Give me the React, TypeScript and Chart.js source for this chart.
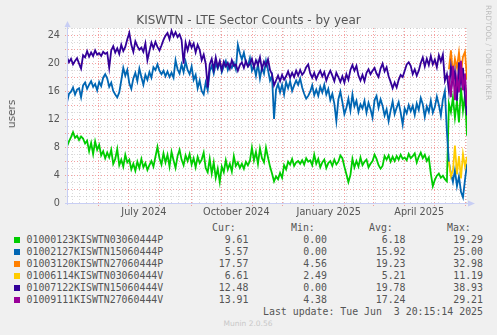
import React, { useEffect, useRef } from "react";
import { Chart, registerables } from "chart.js";

Chart.register(...registerables);

// ---------- data ----------
const TITLE = "KISWTN - LTE Sector Counts - by year";
const Y_TITLE = "users";
const SIDE_TEXT = "RRDTOOL / TOBI OETIKER";
const LAST_UPDATE = "Last update: Tue Jun  3 20:15:14 2025";
const FOOTER = "Munin 2.0.56";

// x = days since 1 May 2024
const DAY_STEP = 2;
const END_START_DAY = 380;
const X_MAX = 398;
const Y_MAX = 25;
const yTickValues = [0, 2, 4, 6, 8, 10, 12, 14, 16, 18, 20, 22, 24];
const monthStartDays = [0, 31, 61, 92, 123, 153, 184, 214, 245, 276, 304, 335, 365, 396];
const xLabelTexts = ["July 2024", "October 2024", "January 2025", "April 2025"];
const xLabelDays = [76.5, 168.5, 260.5, 350.5];
const firstMondayDay = 5;

const green = [
  8.1, 8.8, 9.4, 10.1, 9.3, 9.6, 9.0, 9.5, 9.2, 8.5,
  8.9, 7.4, 8.6, 7.0, 8.8, 7.6, 8.3, 6.8, 7.4, 6.4,
  7.2, 6.5, 7.6, 5.6, 6.3, 7.7, 5.4, 6.2, 5.2, 6.9,
  5.8, 6.2, 4.8, 5.6, 4.6, 5.9, 5.0, 6.3, 5.1, 5.7,
  4.7, 5.4, 6.0, 5.2, 6.6, 8.0, 6.4, 5.5, 7.1, 5.8,
  6.9, 5.2, 7.3, 6.1, 5.0, 6.7, 7.6, 6.2, 5.4, 6.8,
  6.0, 7.0, 5.5, 6.4, 5.1, 6.6, 5.7, 6.2, 7.2, 5.0,
  4.4, 6.3, 4.2, 5.8, 3.6, 4.9, 3.0, 5.2, 4.4, 6.1,
  4.8, 5.6, 4.5, 6.7, 5.3, 5.8, 5.0, 5.6, 4.9, 5.9,
  5.4, 6.0, 7.9, 6.1, 7.3, 5.6, 7.8, 6.4, 5.8, 7.9,
  6.5, 5.2, 4.2, 3.1, 3.8, 3.4, 4.3, 3.6, 5.4, 4.8,
  5.9, 5.5, 6.3, 5.3, 5.8, 6.0, 5.6, 6.1, 5.5, 6.4,
  5.9, 6.1, 5.4, 6.9, 5.6, 6.3, 5.1, 5.8, 6.2, 5.0,
  5.7, 6.0, 5.3, 6.2, 5.5, 5.9, 6.8, 6.4, 5.2, 4.1,
  3.0, 4.0, 6.3, 5.1, 6.0, 5.2, 6.5, 5.4, 5.9, 6.2,
  5.1, 5.6, 6.0, 6.9, 6.3, 5.4, 4.9, 5.3, 6.7, 6.2,
  6.8, 5.9, 6.6, 6.0, 6.7, 6.2, 6.9, 6.3, 6.5, 6.1,
  7.0, 6.4, 6.7, 7.1, 5.8, 6.6, 7.2, 6.4, 6.9, 6.0,
  6.5, 4.2, 2.4, 3.3, 3.9, 4.2, 3.6, 3.9, 3.4, 3.1,
  14.2, 13.0, 15.1, 12.2, 14.6, 11.5, 16.5, 13.2, 15.4, 9.6,
];

const blue = [
  14.4, 15.6, 15.9, 16.5, 15.5, 16.2, 16.4, 15.1, 16.8, 17.2,
  16.3, 16.9, 17.4, 16.6, 17.0, 16.1, 17.3, 16.7, 17.9, 18.4,
  17.8, 16.6, 17.2, 16.0, 15.5, 15.1, 15.8, 17.5, 19.3, 18.2,
  19.0, 17.1, 16.3, 17.8, 18.6, 17.4, 19.2, 18.0, 16.9, 18.3,
  17.6, 18.7, 17.9, 19.4, 19.0, 19.8, 18.9, 18.4, 18.9, 18.1,
  18.8, 18.0, 18.6, 17.9, 20.4, 19.1, 18.5, 19.8, 18.7, 20.2,
  19.0, 18.4, 19.5, 17.6, 18.3, 16.4, 17.5, 16.0, 15.5, 17.2,
  16.1, 18.8, 19.6, 18.5, 19.9, 19.2, 20.1, 18.7, 19.5, 20.3,
  19.0, 19.8, 19.3, 20.0, 19.1, 22.6, 21.4, 20.5, 21.5, 20.0,
  19.6, 20.7, 18.9, 19.6, 18.2, 19.9, 17.8, 19.4, 18.5, 20.3,
  19.0, 17.5, 18.2, 12.0, 16.2, 17.0, 15.8, 16.9, 15.5, 17.3,
  16.4, 17.4, 16.0, 16.8, 17.5, 16.9, 17.8, 16.5, 15.6, 14.9,
  15.3, 15.9, 16.8, 15.4, 16.2, 15.3, 16.6, 15.8, 16.9, 15.5,
  16.3, 14.7, 15.6, 14.2, 11.7, 14.8, 15.9, 14.4, 12.7, 13.6,
  14.9, 13.2, 15.5, 13.8, 14.6, 13.0, 14.1, 13.5, 14.6, 12.9,
  14.3, 13.4, 12.2, 14.7, 15.3, 13.6, 14.8, 13.9, 12.5, 13.4,
  11.7, 13.2, 14.5, 12.7, 13.6, 14.4, 12.9, 11.2, 13.5, 12.8,
  14.0, 13.1, 13.9, 12.6, 14.2, 13.3, 15.0, 14.1, 12.3, 13.8,
  13.0, 14.6, 12.9, 13.7, 15.2, 14.0, 12.5, 14.8, 16.0, 10.2,
  5.8, 4.2, 3.0, 4.7, 2.4, 3.8, 1.6, 0.8, 3.3, 5.6,
];

const purple = [
  20.8, 20.1, 20.6, 19.8, 20.3, 20.7, 19.9, 19.2, 21.1, 20.8,
  21.7, 20.9, 21.5, 21.0, 21.8, 21.2, 21.4, 21.0, 21.6, 21.3,
  21.5, 19.3, 21.8, 22.4, 21.5, 22.1, 21.3, 22.6, 21.7, 22.3,
  23.4, 24.3, 22.6, 21.6, 23.1, 22.4, 21.9, 22.2, 21.6, 22.8,
  20.4, 21.7, 22.9, 22.1, 23.0, 22.3, 21.8, 22.5, 23.3, 23.9,
  24.3, 23.4, 24.6, 23.8, 24.4, 23.7, 24.1, 23.3, 19.9, 22.9,
  21.8, 23.0, 22.2, 22.8, 21.5, 22.6, 21.9, 20.4, 21.2, 19.9,
  16.5, 19.8, 20.6, 19.1, 20.8, 19.4, 20.3, 19.0, 20.2, 19.5,
  20.0, 19.2, 20.4, 19.6, 19.8, 18.9, 19.7, 20.1, 19.3, 20.3,
  19.5, 19.9, 20.6, 19.4, 20.4, 19.7, 20.8, 19.1, 20.2, 19.6,
  20.5, 19.0, 18.4, 16.8, 17.5, 18.2, 17.4, 18.3, 17.6, 18.1,
  18.8, 17.9, 18.6, 18.0, 18.9, 18.2, 19.0, 18.3, 18.7, 19.4,
  19.8, 18.5, 17.9, 18.6, 17.7, 18.4, 18.9, 18.1, 18.7, 17.5,
  18.3, 18.9, 18.2, 17.4, 18.6, 18.0, 17.3, 18.1, 17.2, 18.4,
  17.6, 19.0, 19.7, 18.9, 19.6, 18.2, 17.5, 18.3, 17.4, 18.6,
  19.1, 18.4, 18.9, 19.3, 18.5, 18.0, 19.2, 19.9, 18.8, 19.4,
  18.1, 17.3, 16.4, 17.2, 16.5, 17.6, 18.3, 18.0, 18.9, 19.8,
  20.1, 19.6, 18.4, 19.1, 18.2, 18.9, 20.0, 20.8, 19.5, 20.6,
  19.7, 21.0, 19.8, 20.5, 19.4, 21.1, 20.2, 21.2, 17.5, 18.4,
  16.0, 19.5, 17.2, 18.8, 14.6, 20.1, 17.0, 19.3, 15.2, 12.5,
];

const orangeEnd = [19.1, 21.8, 18.4, 20.6, 19.3, 21.5, 18.7, 20.9, 21.6, 17.6];
const yellowEnd = [5.9, 3.8, 4.6, 8.2, 4.1, 6.7, 3.5, 7.0, 5.2, 6.6];
const magentaEnd = [18.2, 15.1, 19.6, 14.7, 17.9, 15.8, 20.3, 16.1, 18.5, 13.9];

const seriesNames = [
  "01000123KISWTN03060444P",
  "01002127KISWTN15060444P",
  "01003120KISWTN27060444P",
  "01006114KISWTN03060444V",
  "01007122KISWTN15060444V",
  "01009111KISWTN27060444V",
];
const seriesColors = ["#00CC00", "#0066B3", "#FF8000", "#FFCC00", "#330099", "#990099"];
const curValues = ["9.61", "5.57", "17.57", "6.61", "12.48", "13.91"];
const minValues = ["0.00", "0.00", "4.56", "2.49", "0.00", "4.38"];
const avgValues = ["6.18", "15.92", "19.23", "5.21", "19.78", "17.24"];
const maxValues = ["19.29", "25.00", "32.98", "11.19", "38.93", "29.21"];

// ---------- layout / style ----------
const W = 497;
const H = 335;
const CANVAS_H = 222;
const MAJOR = "rgba(240,120,120,0.7)";
const MINOR = "rgba(170,170,170,0.45)";
const AXIS = "#C8CEF4";
const TEXT = "#555555";

const fullSeries = (arr: number[]) => arr.map((v, i) => ({ x: i * DAY_STEP, y: v }));
const endSeries = (arr: number[]) => arr.map((v, i) => ({ x: END_START_DAY + i * DAY_STEP, y: v }));

const seriesData = [
  fullSeries(green),
  fullSeries(blue),
  endSeries(orangeEnd),
  endSeries(yellowEnd),
  fullSeries(purple),
  endSeries(magentaEnd),
];

const rrdGrid = {
  id: "rrdGrid",
  beforeDatasetsDraw(chart: any) {
    const { ctx, chartArea: a, scales } = chart;
    const xs = scales.x;
    const ys = scales.y;
    ctx.save();
    ctx.fillStyle = "#FFFFFF";
    ctx.fillRect(a.left, a.top, a.right - a.left, a.bottom - a.top);
    ctx.lineWidth = 1;
    ctx.setLineDash([1, 2]);
    ctx.strokeStyle = MINOR;
    for (let d = firstMondayDay; d < X_MAX; d += 7) {
      const x = Math.round(xs.getPixelForValue(d)) + 0.5;
      ctx.beginPath();
      ctx.moveTo(x, a.top);
      ctx.lineTo(x, a.bottom + 2);
      ctx.stroke();
    }
    for (let v = 0; v <= Y_MAX; v++) {
      const y = Math.round(ys.getPixelForValue(v)) + 0.5;
      ctx.strokeStyle = v % 2 === 0 ? MAJOR : MINOR;
      ctx.beginPath();
      ctx.moveTo(a.left - 2, y);
      ctx.lineTo(a.right, y);
      ctx.stroke();
    }
    ctx.strokeStyle = MAJOR;
    for (const d of monthStartDays) {
      if (d <= 0) continue;
      const x = Math.round(xs.getPixelForValue(d)) + 0.5;
      ctx.beginPath();
      ctx.moveTo(x, a.top);
      ctx.lineTo(x, a.bottom + 3);
      ctx.stroke();
    }
    ctx.restore();
  },
  afterDatasetsDraw(chart: any) {
    const { ctx, chartArea: a } = chart;
    ctx.save();
    ctx.setLineDash([]);
    ctx.strokeStyle = AXIS;
    ctx.fillStyle = AXIS;
    ctx.lineWidth = 1;
    const bx = Math.round(a.left) + 0.5;
    const by = Math.round(a.bottom) + 0.5;
    ctx.beginPath();
    ctx.moveTo(a.left - 2, by);
    ctx.lineTo(a.right + 2, by);
    ctx.moveTo(bx, a.bottom + 2);
    ctx.lineTo(bx, a.top - 2);
    ctx.stroke();
    ctx.beginPath();
    ctx.moveTo(a.right + 1, by - 3);
    ctx.lineTo(a.right + 8, by);
    ctx.lineTo(a.right + 1, by + 3);
    ctx.closePath();
    ctx.fill();
    ctx.beginPath();
    ctx.moveTo(bx - 3, a.top - 1);
    ctx.lineTo(bx, a.top - 7);
    ctx.lineTo(bx + 3, a.top - 1);
    ctx.closePath();
    ctx.fill();
    ctx.restore();
  },
};

export default function App() {
  const ref = useRef<HTMLCanvasElement>(null);

  useEffect(() => {
    if (!ref.current) return;
    const chart = new Chart(ref.current, {
      type: "line",
      data: {
        datasets: seriesData.map((d, i) => ({
          label: seriesNames[i],
          data: d,
          borderColor: seriesColors[i],
          backgroundColor: seriesColors[i],
          borderWidth: 1.8,
          pointRadius: 0,
          tension: 0,
          fill: false,
          order: seriesData.length - 1 - i,
        })),
      },
      options: {
        animation: false,
        responsive: false,
        events: [],
        layout: { padding: { top: 28, right: 30, left: 0, bottom: 0 } },
        plugins: {
          legend: { display: false },
          tooltip: { enabled: false },
          title: { display: false },
        },
        scales: {
          x: {
            type: "linear",
            min: 0,
            max: X_MAX,
            grid: { display: false, drawTicks: false },
            border: { display: false },
            afterBuildTicks: (scale: any) => {
              scale.ticks = xLabelDays.map((v) => ({ value: v }));
            },
            afterFit: (scale: any) => {
              scale.height = CANVAS_H - 203;
            },
            ticks: {
              autoSkip: false,
              maxRotation: 0,
              minRotation: 0,
              padding: 4,
              color: TEXT,
              font: { family: "DejaVu Sans", size: 9.7 },
              callback: (value: any) => {
                const idx = xLabelDays.indexOf(Number(value));
                return idx >= 0 ? xLabelTexts[idx] : "";
              },
            },
          },
          y: {
            type: "linear",
            min: 0,
            max: Y_MAX,
            grid: { display: false, drawTicks: false },
            border: { display: false },
            afterBuildTicks: (scale: any) => {
              scale.ticks = yTickValues.map((v) => ({ value: v }));
            },
            afterFit: (scale: any) => {
              scale.width = 67;
            },
            ticks: {
              padding: 7,
              color: TEXT,
              font: { family: "DejaVu Sans", size: 9.7 },
              callback: (value: any) => String(value),
            },
          },
        },
      },
      plugins: [rrdGrid],
    });
    return () => chart.destroy();
  }, []);

  const mono = "'DejaVu Sans Mono', monospace";
  const rowCenter0 = 239.6;
  const rowStep = 12;
  const colEnds = [248.5, 327, 405.5, 483];
  const headerLeft = [212, 291, 369, 447];
  const headers = ["Cur:", "Min:", "Avg:", "Max:"];
  const columns = [curValues, minValues, avgValues, maxValues];

  const textBox = (top: number): React.CSSProperties => ({
    position: "absolute",
    top,
    height: 12,
    lineHeight: "12px",
    fontFamily: mono,
    fontSize: 9.9,
    color: TEXT,
    whiteSpace: "pre",
  });

  return (
    <div
      style={{
        position: "fixed",
        left: 0,
        top: 0,
        width: W,
        height: H,
        background: "#F0F0F0",
        overflow: "hidden",
      }}
    >
      <canvas
        ref={ref}
        width={W}
        height={CANVAS_H}
        style={{ position: "absolute", left: 0, top: 0, width: W, height: CANVAS_H }}
      />
      <div
        style={{
          position: "absolute",
          left: 0,
          top: 13,
          width: W,
          textAlign: "center",
          fontFamily: "'DejaVu Sans'",
          fontSize: 12,
          lineHeight: "14px",
          color: TEXT,
          whiteSpace: "pre",
        }}
      >
        {TITLE}
      </div>
      <div
        style={{
          position: "absolute",
          left: 11,
          top: 114,
          transform: "translate(-50%, -50%) rotate(-90deg)",
          fontFamily: "'DejaVu Sans'",
          fontSize: 10.5,
          lineHeight: "12px",
          color: TEXT,
          whiteSpace: "pre",
        }}
      >
        {Y_TITLE}
      </div>
      <div
        style={{
          position: "absolute",
          left: 484,
          top: 5,
          writingMode: "vertical-rl",
          fontFamily: "'DejaVu Sans'",
          fontSize: 7.4,
          lineHeight: "8px",
          color: "#BDBDBD",
          whiteSpace: "pre",
        }}
      >
        {SIDE_TEXT}
      </div>
      {headers.map((h, j) => (
        <div key={h} style={{ ...textBox(rowCenter0 - rowStep - 5.8), left: headerLeft[j] }}>
          {h}
        </div>
      ))}
      {seriesNames.map((name, i) => {
        const c = rowCenter0 + i * rowStep;
        return (
          <React.Fragment key={name}>
            <div
              style={{
                position: "absolute",
                left: 14,
                top: c - 3,
                width: 6,
                height: 6,
                background: seriesColors[i],
              }}
            />
            <div style={{ ...textBox(c - 5.8), left: 26.5 }}>{name}</div>
            {columns.map((col, j) => (
              <div
                key={j}
                style={{ ...textBox(c - 5.8), left: colEnds[j] - 80, width: 80, textAlign: "right" }}
              >
                {col[i]}
              </div>
            ))}
          </React.Fragment>
        );
      })}
      <div
        style={{
          ...textBox(rowCenter0 + 6 * rowStep - 5.8),
          left: colEnds[3] - 260,
          width: 260,
          textAlign: "right",
        }}
      >
        {LAST_UPDATE}
      </div>
      <div
        style={{
          position: "absolute",
          left: 0,
          width: 496,
          top: 319,
          height: 10,
          lineHeight: "10px",
          textAlign: "center",
          fontFamily: "'DejaVu Sans'",
          fontSize: 7.5,
          color: "#C8C8C8",
          whiteSpace: "pre",
        }}
      >
        {FOOTER}
      </div>
    </div>
  );
}
